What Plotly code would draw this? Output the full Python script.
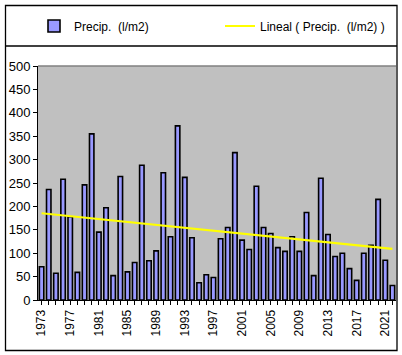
import numpy as np
import plotly.graph_objects as go

years = list(range(1973, 2023))
precip = [71, 236, 57, 258, 178, 59, 246, 355, 145, 197,
          52, 264, 60, 80, 288, 84, 105, 272, 135, 372,
          262, 133, 37, 54, 48, 131, 155, 315, 128, 108,
          243, 155, 142, 112, 104, 135, 104, 187, 52, 260,
          140, 93, 100, 67, 42, 100, 117, 215, 85, 31]
label_years = list(range(1973, 2022, 4))

# Linear trend (Excel "Lineal" trendline) computed from the data
coef = np.polyfit(years, precip, 1)
trend = [coef[0] * y + coef[1] for y in years]

ticktext = [str(y) if y in label_years else "" for y in years]

FONT = "Liberation Sans, Arial, sans-serif"

fig = go.Figure()
fig.add_trace(go.Bar(
    x=years, y=precip, name="Precip.\u00a0 (l/m2)",
    marker=dict(color="#9999FF", line=dict(color="black", width=1.6)),
    width=0.62,
))
fig.add_trace(go.Scatter(
    x=years, y=trend, mode="lines", name="Lineal ( Precip.\u00a0 (l/m2) )",
    line=dict(color="#FFFF00", width=2.2),
))

L, R, T, B = 38, 396, 66, 300
def px(x):
    return (x - L) / (R - L)
def py(y):
    return (B - y) / (B - T)

shapes = [
    dict(type="rect", xref="paper", yref="paper",
         x0=px(5.5), x1=px(397), y0=py(5.5), y1=py(350.5),
         line=dict(color="black", width=1.3), fillcolor="rgba(0,0,0,0)"),
    dict(type="line", xref="paper", yref="paper",
         x0=px(5.5), x1=px(397), y0=py(46), y1=py(46),
         line=dict(color="black", width=1.3)),
    dict(type="line", xref="paper", yref="paper",
         x0=0, x1=1, y0=1, y1=1,
         line=dict(color="#808080", width=1.3)),
]

fig.update_layout(
    width=402, height=355,
    margin=dict(l=L, r=402 - R, t=T, b=355 - B, pad=0, autoexpand=False),
    paper_bgcolor="white", plot_bgcolor="#C0C0C0",
    bargap=0.3,
    font=dict(family=FONT, color="black", size=12),
    showlegend=True,
    legend=dict(
        orientation="h", x=px(34), y=py(26), xanchor="left", yanchor="middle",
        entrywidth=141, entrywidthmode="pixels",
        font=dict(size=12, family=FONT, color="black"),
        bgcolor="rgba(0,0,0,0)", borderwidth=0,
        traceorder="normal",
    ),
    xaxis=dict(
        range=[1972.5, 2022.5], tickmode="array", tickvals=years, ticktext=ticktext,
        tickangle=-90, ticks="outside", ticklen=4, tickcolor="black", tickwidth=1,
        showline=True, linecolor="black", linewidth=1, showgrid=False, zeroline=False,
        tickfont=dict(size=12, family=FONT, color="black"),
    ),
    yaxis=dict(
        range=[0, 500], dtick=50, ticks="outside", ticklen=4, tickcolor="black",
        tickwidth=1, showline=True, linecolor="black", linewidth=1,
        showgrid=False, zeroline=False,
        tickfont=dict(size=13, family=FONT, color="black"),
    ),
    shapes=shapes,
)

fig.write_html("out.html", config={"displayModeBar": False},
               post_script="document.body.style.margin='0';document.body.style.overflow='hidden';")
